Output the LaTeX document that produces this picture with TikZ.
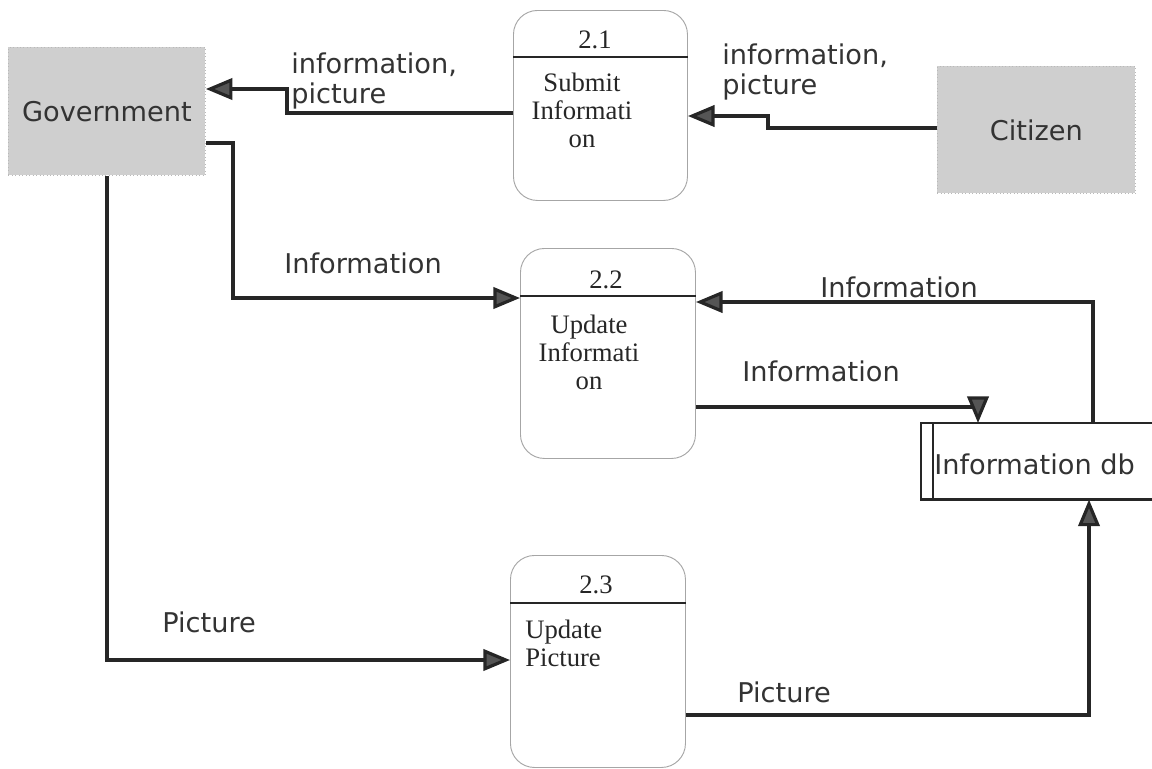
\documentclass[tikz,border=0pt]{standalone}
\usepackage{fontspec}
\setmainfont{Liberation Serif}
\newfontfamily\lblfont{DejaVu Sans}
\usetikzlibrary{arrows.meta}
\definecolor{ink}{HTML}{262626}
\definecolor{txt}{HTML}{333333}
\definecolor{tipfill}{HTML}{555555}
\begin{document}
\begin{tikzpicture}[x=0.75pt,y=-0.75pt,
  entity/.style={fill=gray!38, draw=gray!55, line width=0.6pt, dotted, inner sep=0, anchor=north west,
    font=\lblfont\fontsize{20.4}{22}\selectfont, text=txt},
  proc/.style={draw=gray!70, line width=0.7pt, rounded corners=18pt, inner sep=0, anchor=north west},
  flow/.style={draw=ink, line width=2.4pt, -{Triangle[length=20pt,width=16pt,fill=tipfill]}},
  lbl/.style={font=\lblfont\fontsize{20.4}{22.5}\selectfont, text=txt, inner sep=0, align=left},
  pnum/.style={font=\fontsize{20}{21}\selectfont, text=ink, inner sep=0},
  ptxt/.style={font=\fontsize{20}{21}\selectfont, text=ink, inner sep=0},
  divider/.style={draw=ink, line width=1.6pt},
  store/.style={draw=ink, line width=2.2pt}]
\useasboundingbox (0,0) rectangle (1152,768);
\clip (0,0) rectangle (1152,768);

% external entities
\node[entity, minimum width=147.75pt, minimum height=96pt] (gov) at (8,47) {Government};
\node[entity, minimum width=148.5pt, minimum height=95.25pt] (cit) at (937,66) {Citizen};

% processes
\node[proc, minimum width=130.5pt, minimum height=142.5pt] (p21) at (513,10) {};
\node[proc, minimum width=131.25pt, minimum height=157.5pt] (p22) at (520,248) {};
\node[proc, minimum width=131.25pt, minimum height=159pt] (p23) at (510,555) {};

\coordinate (d21) at (0,57);
\coordinate (d22) at (0,296);
\coordinate (d23) at (0,603);
\draw[divider] (p21.west |- d21) -- (p21.east |- d21);
\draw[divider] (p22.west |- d22) -- (p22.east |- d22);
\draw[divider] (p23.west |- d23) -- (p23.east |- d23);

\node[pnum] (n21) at (595,40) {2.1};
\node[pnum] (n22) at (606,280) {2.2};
\node[pnum] (n23) at (596,585) {2.3};
\node[ptxt, align=center, anchor=north] (t21) at (582,73) {Submit\\Informati\\on};
\node[ptxt, align=center, anchor=north] (t22) at (589,315) {Update\\Informati\\on};
\node[ptxt, align=left, anchor=north west] (t23) at (525,620) {Update\\Picture};

% data store
\node[minimum width=180pt, minimum height=57pt, anchor=north west, inner sep=0] (db) at (921,423) {};
\draw[store] (db.north east) -- (db.north west) -- (db.south west) -- (db.south east);
\draw[ink, line width=1.4pt] ([xshift=9pt]db.north west) -- ([xshift=9pt]db.south west);
\node[lbl, anchor=west] (dbt) at (934,464) {Information db};

% flows
\coordinate (b1) at (287,113); \coordinate (b1u) at (287,89);
\draw[flow] (p21.west |- b1) -- (b1) -- (b1u) -- (gov.east |- b1u);
\coordinate (b2) at (768,128); \coordinate (b2u) at (768,116);
\draw[flow] (cit.west |- b2) -- (b2) -- (b2u) -- (p21.east |- b2u);
\coordinate (b3) at (233,143); \coordinate (b3d) at (233,298);
\draw[flow] (gov.east |- b3) -- (b3) -- (b3d) -- (p22.west |- b3d);
\coordinate (b4) at (107,660);
\draw[flow] (gov.south -| b4) -- (b4) -- (p23.west |- b4);
\coordinate (b5) at (1093,302);
\draw[flow] (db.north -| b5) -- (b5) -- (p22.east |- b5);
\coordinate (b6) at (978,407);
\draw[flow] (p22.east |- b6) -- (b6) -- (db.north -| b6);
\coordinate (b7) at (1089,715);
\draw[flow] (p23.east |- b7) -- (b7) -- (db.south -| b7);

% flow labels
\node[lbl, anchor=west] (l1) at (291,81) {information,\\picture};
\node[lbl, anchor=west] (l2) at (722,72) {information,\\picture};
\node[lbl, anchor=west] (l3) at (284,263) {Information};
\node[lbl, anchor=west] (l5) at (820,287) {Information};
\node[lbl, anchor=west] (l6) at (742,371) {Information};
\node[lbl, anchor=west] (l4) at (162,622) {Picture};
\node[lbl, anchor=west] (l7) at (737,692) {Picture};
\end{tikzpicture}
\end{document}
